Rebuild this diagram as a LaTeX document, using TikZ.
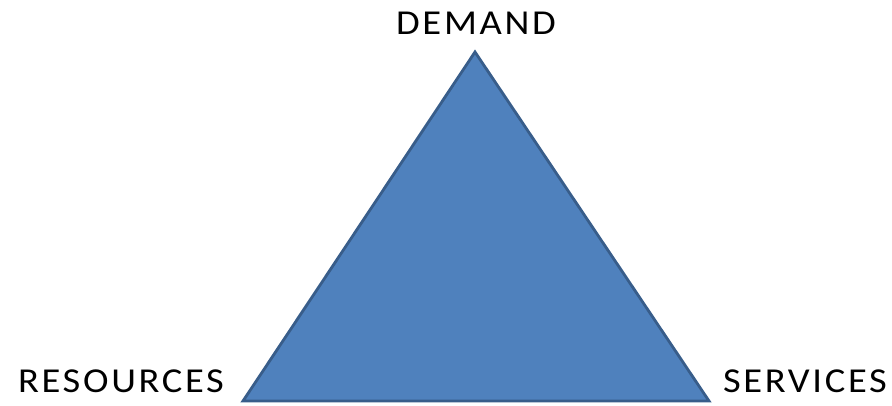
\documentclass[tikz,border=0pt]{standalone}
\usepackage{fontspec}
\setmainfont{Carlito}[LetterSpace=7]
\definecolor{trifill}{HTML}{4F81BD}
\definecolor{triborder}{HTML}{385D8A}
\begin{document}
\begin{tikzpicture}[x=1pt,y=-1pt,
  lbl/.style={anchor=base,inner sep=0pt,font=\fontsize{35}{35}\selectfont,xscale=1.1}]
\useasboundingbox (0,0) rectangle (892,406);
\coordinate (top) at (475,52);
\coordinate (bl) at (243,401);
\coordinate (br) at (709,401);
\draw[fill=trifill,draw=triborder,line width=2.8pt,line join=miter] (top) -- (br) -- (bl) -- cycle;
\node[lbl] (demand) at (476,35) {DEMAND};
\node[lbl] (resources) at (121,392) {RESOURCES};
\node[lbl] (services) at (805,392) {SERVICES};
\end{tikzpicture}
\end{document}
